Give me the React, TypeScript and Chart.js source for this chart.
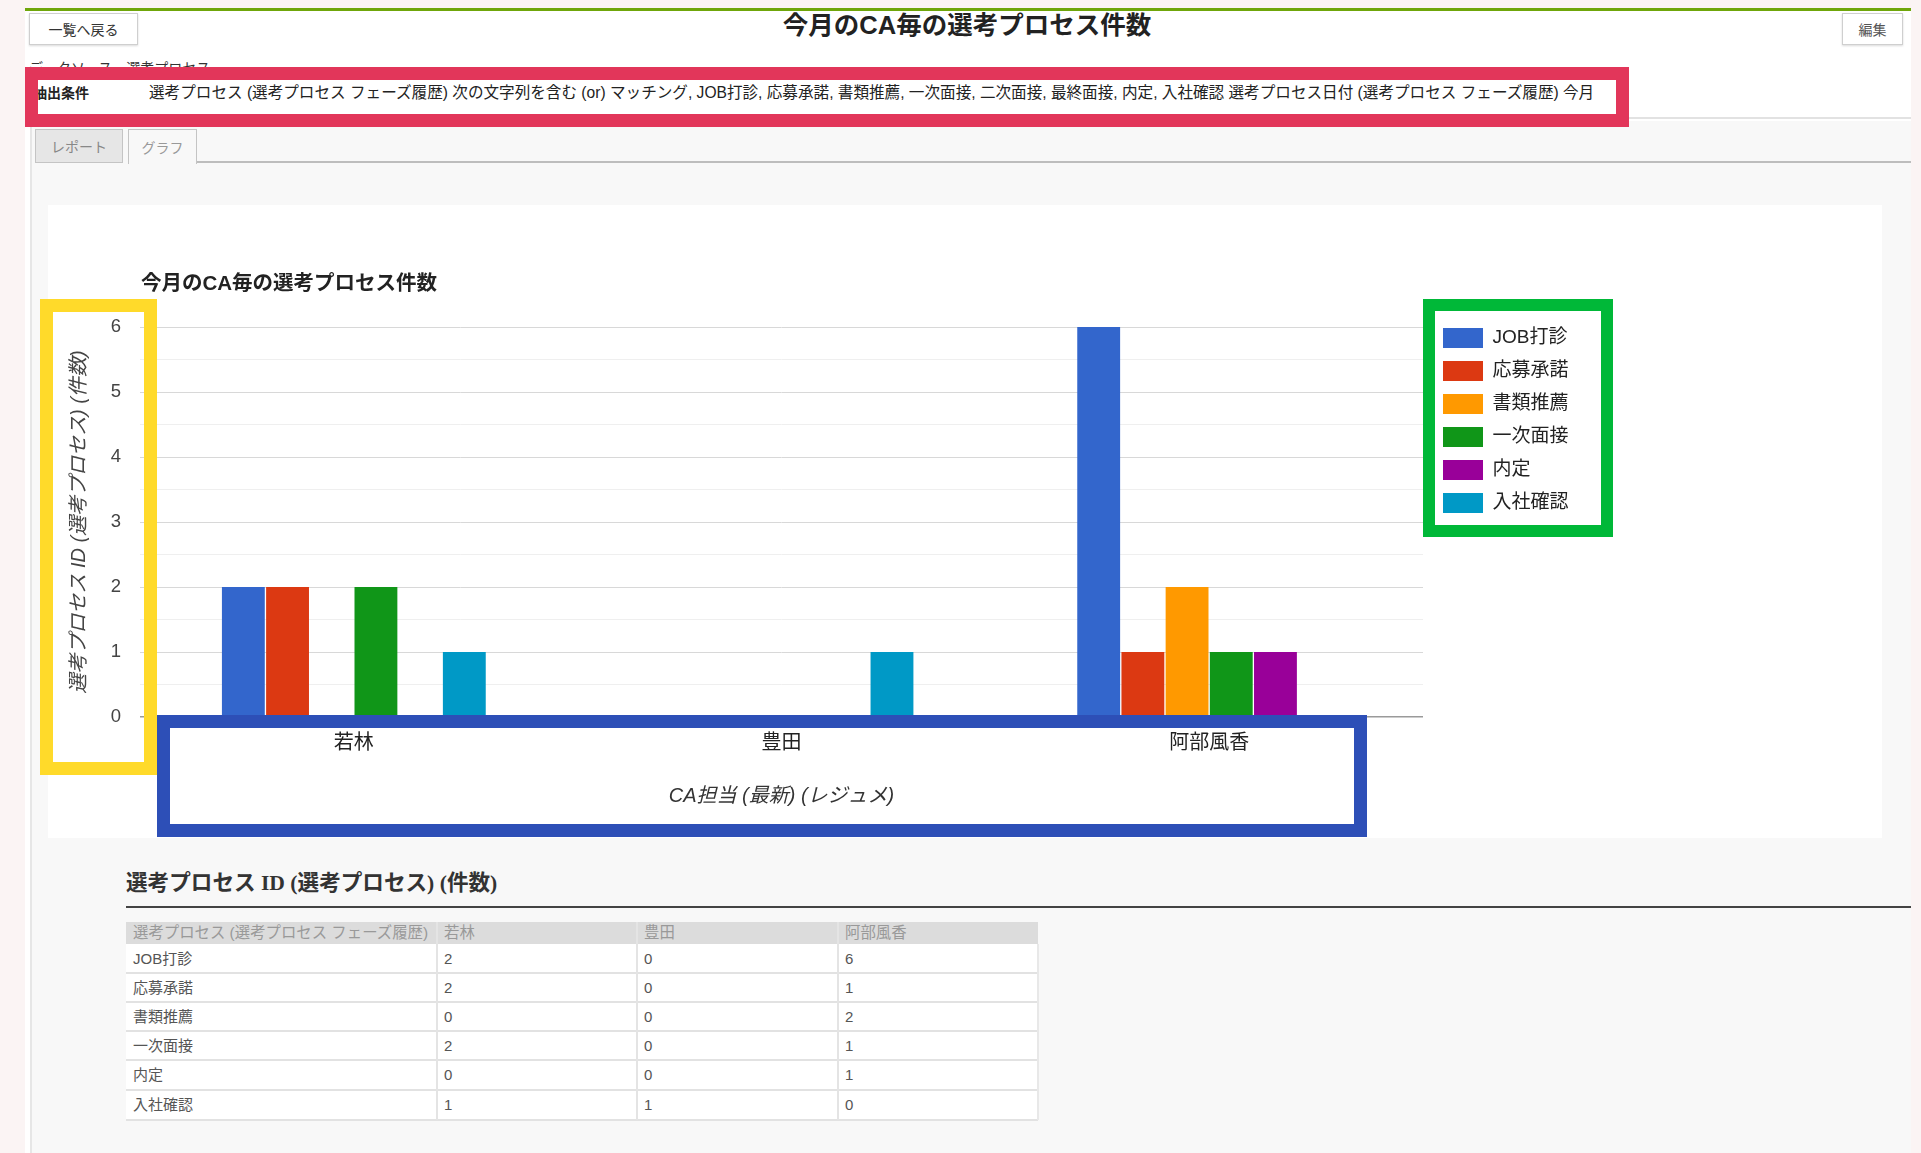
import React, { useEffect, useRef } from "react";
import { Chart, registerables } from "chart.js";

Chart.register(...registerables);

// ---------- data ----------
const pageTitle = "今月のCA毎の選考プロセス件数";
const chartTitle = "今月のCA毎の選考プロセス件数";
const dataSourceText = "データソース　選考プロセス";
const criteriaLabel = "抽出条件";
const criteriaText =
  "選考プロセス (選考プロセス フェーズ履歴) 次の文字列を含む (or) マッチング, JOB打診, 応募承諾, 書類推薦, 一次面接, 二次面接, 最終面接, 内定, 入社確認 選考プロセス日付 (選考プロセス フェーズ履歴) 今月";
const tabLabels = ["レポート", "グラフ"];
const categories = ["若林", "豊田", "阿部風香"];
const seriesNames = ["JOB打診", "応募承諾", "書類推薦", "一次面接", "内定", "入社確認"];
const seriesColors = ["#3366CC", "#DC3912", "#FF9900", "#109618", "#990099", "#0099C6"];
const jobDashin = [2, 0, 6];
const oboShodaku = [2, 0, 1];
const shoruiSuisen = [0, 0, 2];
const ichijiMensetsu = [2, 0, 1];
const naitei = [0, 0, 1];
const nyushaKakunin = [1, 1, 0];
const seriesValues = [jobDashin, oboShodaku, shoruiSuisen, ichijiMensetsu, naitei, nyushaKakunin];
const yMin = 0;
const yMax = 6;
const yTitle = "選考プロセス ID (選考プロセス) (件数)";
const xTitle = "CA担当 (最新) (レジュメ)";
const tableTitle = "選考プロセス ID (選考プロセス) (件数)";
const tableHeader = "選考プロセス (選考プロセス フェーズ履歴)";

const FONT = "'Liberation Sans', 'Noto Sans CJK JP', sans-serif";

function ChartCanvas() {
  const ref = useRef<HTMLCanvasElement | null>(null);
  useEffect(() => {
    if (!ref.current) return;
    const titlePlugin = {
      id: "chartTitleText",
      afterDraw(chart: any) {
        const { ctx, chartArea } = chart;
        ctx.save();
        ctx.font = `bold 20.5px ${FONT}`;
        ctx.fillStyle = "#222";
        ctx.textBaseline = "middle";
        ctx.textAlign = "left";
        ctx.fillText(chartTitle, chartArea.left + 1, 79.5);
        ctx.restore();
      },
    };
    const legendShift = {
      id: "legendShift",
      afterLayout(chart: any) {
        const lg = chart.legend;
        if (!lg) return;
        const pad = lg.options.labels.padding;
        const dx = chart.chartArea.right + 20 - pad - lg.left;
        lg.left += dx;
        lg.right += dx;
        const dy = chart.chartArea.top + 1 - pad - lg.top;
        lg.top += dy;
        lg.bottom += dy;
      },
    };
    const chart = new Chart(ref.current, {
      type: "bar",
      data: {
        labels: categories,
        datasets: seriesNames.map((name, i) => ({
          label: name,
          data: seriesValues[i],
          backgroundColor: seriesColors[i],
          borderWidth: 0,
          categoryPercentage: 0.62,
          barPercentage: 0.97,
        })),
      },
      options: {
        animation: false,
        responsive: false,
        maintainAspectRatio: false,
        layout: { padding: { left: 16, top: 122, right: 319, bottom: 24 } },
        plugins: {
          legend: {
            position: "right",
            align: "start",
            fullSize: false,
            maxWidth: 140,
            labels: {
              boxWidth: 40,
              boxHeight: 20,
              padding: 13,
              color: "#222",
              font: { family: FONT, size: 19 },
            },
          },
          tooltip: { enabled: false },
          title: { display: false },
        },
        scales: {
          x: {
            grid: { display: false },
            border: { display: false },
            ticks: { color: "#222", font: { family: FONT, size: 20 }, padding: 6 },
            title: {
              display: true,
              text: xTitle,
              color: "#333",
              font: { family: FONT, size: 20, style: "italic" },
              padding: { top: 4, bottom: 6 },
            },
            afterFit: (s: any) => {
              s.height = 97;
            },
          },
          y: {
            min: yMin,
            max: yMax,
            border: { display: false },
            grid: {
              drawTicks: false,
              color: (c: any) => {
                const v = c.tick ? c.tick.value : 0;
                if (v === 0) return "#9a9a9a";
                return Number.isInteger(v) ? "#d8d8d8" : "#efefef";
              },
              lineWidth: (c: any) => (c.tick && c.tick.value === 0 ? 1.5 : 1),
            },
            ticks: {
              stepSize: 0.5,
              maxTicksLimit: 30,
              autoSkip: false,
              padding: 19,
              color: "#444",
              font: { family: FONT, size: 18.5 },
              callback: (v: any) => (Number.isInteger(v) ? String(v) : ""),
            },
            title: {
              display: true,
              text: yTitle,
              color: "#444",
              font: { family: FONT, size: 20, style: "italic" },
              padding: { top: 3, bottom: 4 },
            },
            afterFit: (s: any) => {
              s.width = 76;
            },
          },
        },
      },
      plugins: [titlePlugin, legendShift],
    } as any);
    return () => chart.destroy();
  }, []);
  return <canvas ref={ref} width={1834} height={633} style={{ display: "block", width: 1834, height: 633 }} />;
}

const abs = (l: number, t: number, w: number, h: number, extra: any = {}) => ({
  position: "absolute" as const,
  left: l,
  top: t,
  width: w,
  height: h,
  boxSizing: "border-box" as const,
  ...extra,
});

export default function App() {
  const colX = [126, 437, 637, 838, 1038];
  const rowY = [922, 944, 973, 1002, 1031, 1060, 1090, 1120];
  return (
    <div style={{ position: "absolute", left: 0, top: 0, width: 1921, height: 1153, overflow: "hidden", background: "#fbf4f4", fontFamily: FONT }}>
      {/* page */}
      <div style={abs(25, 8, 1886, 1145, { background: "#ffffff" })} />
      <div style={abs(25, 8, 1886, 3, { background: "#6fa60a" })} />
      {/* buttons */}
      <div style={abs(29, 13, 109, 32, { border: "1px solid #cfcfcf", background: "#fff", boxShadow: "0 1px 2px rgba(0,0,0,0.15)", fontSize: 14, color: "#333", display: "flex", alignItems: "center", justifyContent: "center" })}>一覧へ戻る</div>
      <div style={abs(1842, 13, 61, 32, { border: "1px solid #cfcfcf", background: "#fff", boxShadow: "0 1px 2px rgba(0,0,0,0.15)", fontSize: 14, color: "#555", display: "flex", alignItems: "center", justifyContent: "center" })}>編集</div>
      {/* page title */}
      <div style={abs(600, 8, 734, 34, { fontSize: 25.5, fontWeight: "bold", color: "#222", textAlign: "center", lineHeight: "34px" })}>{pageTitle}</div>
      {/* data source (mostly hidden) */}
      <div style={abs(29, 58, 400, 20, { fontSize: 14, color: "#333", lineHeight: "20px", whiteSpace: "nowrap" })}>{dataSourceText}</div>
      {/* criteria row */}
      <div style={abs(25, 67, 1886, 52, { background: "#fff", borderBottom: "2px solid #e2e2e2" })} />
      <div style={abs(33, 83, 100, 20, { fontSize: 14, fontWeight: "bold", color: "#222", lineHeight: "20px", whiteSpace: "nowrap" })}>{criteriaLabel}</div>
      <div style={abs(149, 83, 1470, 20, { fontSize: 15.6, color: "#222", lineHeight: "20px", whiteSpace: "nowrap" })}>{criteriaText}</div>
      {/* content background */}
      <div style={abs(30, 121, 1881, 1032, { background: "#f8f8f8", borderLeft: "2px solid #e6e6e6" })} />
      {/* tabs */}
      <div style={abs(197, 161, 1714, 2, { background: "#bdbdbd" })} />
      <div style={abs(35, 129, 88, 34, { background: "#e6e6e6", border: "1px solid #c4c4c4", fontSize: 14, color: "#888", display: "flex", alignItems: "center", justifyContent: "center" })}>{tabLabels[0]}</div>
      <div style={abs(128, 129, 69, 35, { background: "#f8f8f8", border: "1px solid #c4c4c4", borderBottom: "none", fontSize: 14, color: "#999", display: "flex", alignItems: "center", justifyContent: "center" })}>{tabLabels[1]}</div>
      {/* chart panel */}
      <div style={abs(48, 205, 1834, 633, { background: "#fff" })}>
        <ChartCanvas />
      </div>
      {/* annotation boxes */}
      <div style={abs(25, 67, 1604, 60, { border: "13px solid #e2365a", pointerEvents: "none" })} />
      <div style={abs(40, 299, 117, 476, { border: "13px solid #ffda2a", pointerEvents: "none" })} />
      <div style={abs(157, 715, 1210, 122, { border: "13px solid #2d4fb7", pointerEvents: "none" })} />
      <div style={abs(1423, 299, 190, 238, { border: "12px solid #00b838", pointerEvents: "none" })} />
      {/* table section */}
      <div style={abs(126, 868, 600, 30, { fontSize: 21.6, fontWeight: "bold", color: "#333", lineHeight: "30px", whiteSpace: "nowrap", fontFamily: "'Liberation Serif', 'Noto Sans CJK JP', serif" })}>{tableTitle}</div>
      <div style={abs(126, 906, 1785, 2, { background: "#444" })} />
      <div style={abs(colX[0], rowY[0], colX[4] - colX[0], rowY[1] - rowY[0], { background: "#dcdcdc" })} />
      <div style={abs(colX[0], rowY[1], colX[4] - colX[0], rowY[7] - rowY[1], { background: "#fff" })} />
      {rowY.slice(2).map((y, i) => (
        <div key={"h" + i} style={abs(colX[0], y - 1, colX[4] - colX[0], 2, { background: "#e2e2e2" })} />
      ))}
      {colX.slice(1, 4).map((x, i) => (
        <div key={"v" + i} style={abs(x - 1, rowY[0], 2, rowY[7] - rowY[0], { background: "#e4e4e4" })} />
      ))}
      <div style={abs(colX[4] - 1, rowY[1], 2, rowY[7] - rowY[1], { background: "#e8e8e8" })} />
      {[tableHeader, ...categories].map((t, c) => (
        <div key={"th" + c} style={abs(colX[c] + 7, rowY[0], colX[c + 1] - colX[c] - 8, rowY[1] - rowY[0], { fontSize: 15.4, color: "#999", lineHeight: `${rowY[1] - rowY[0]}px`, whiteSpace: "nowrap", overflow: "hidden" })}>{t}</div>
      ))}
      {seriesNames.map((name, r) => (
        <React.Fragment key={"r" + r}>
          <div style={abs(colX[0] + 7, rowY[r + 1], 300, rowY[r + 2] - rowY[r + 1], { fontSize: 15, color: "#555", lineHeight: `${rowY[r + 2] - rowY[r + 1]}px`, whiteSpace: "nowrap" })}>{name}</div>
          {categories.map((_, c) => (
            <div key={"c" + c} style={abs(colX[c + 1] + 7, rowY[r + 1], 150, rowY[r + 2] - rowY[r + 1], { fontSize: 15, color: "#555", lineHeight: `${rowY[r + 2] - rowY[r + 1]}px`, whiteSpace: "nowrap" })}>{String(seriesValues[r][c])}</div>
          ))}
        </React.Fragment>
      ))}
    </div>
  );
}
